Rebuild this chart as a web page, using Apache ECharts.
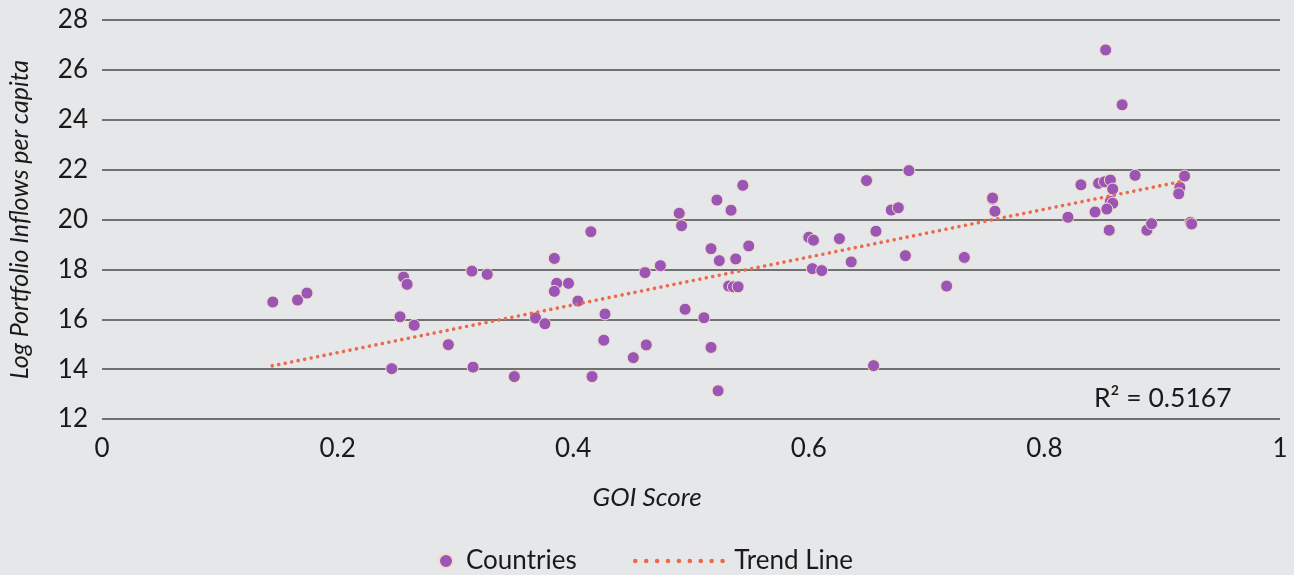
<!DOCTYPE html>
<html>
<head>
<meta charset="utf-8">
<script src="https://cdn.jsdelivr.net/npm/echarts@6/dist/echarts.min.js"></script>
<style>
  html, body { margin: 0; padding: 0; background: #e6e7e9; }
  #chart { width: 1294px; height: 575px; }
</style>
</head>
<body>
<div id="chart"></div>
<script>
// GOI score per country (x) and log portfolio inflows per capita (y)
const goiScore = [
  0.145, 0.166, 0.174, 0.256, 0.259, 0.314, 0.327, 0.253, 0.265, 0.368, 0.294, 0.246, 0.315, 0.350,
  0.544, 0.522, 0.534, 0.490, 0.492, 0.415, 0.517, 0.549, 0.524, 0.538, 0.384, 0.474, 0.461, 0.386,
  0.396, 0.384, 0.532, 0.536, 0.540, 0.404, 0.376, 0.427, 0.495, 0.511, 0.426, 0.462, 0.451, 0.517,
  0.416, 0.523,
  0.685, 0.649, 0.756, 0.756, 0.758, 0.670, 0.676, 0.600, 0.604, 0.626, 0.657, 0.636, 0.682, 0.732,
  0.603, 0.611, 0.717, 0.655,
  0.852, 0.866, 0.877, 0.919, 0.831, 0.846, 0.851, 0.856, 0.858, 0.915, 0.914, 0.856, 0.858, 0.853,
  0.843, 0.820, 0.855, 0.887, 0.891, 0.924, 0.925
];
const logInflows = [
  16.69, 16.77, 17.05, 17.69, 17.40, 17.93, 17.80, 16.10, 15.76, 16.05, 14.98, 14.02, 14.08, 13.70,
  21.37, 20.78, 20.37, 20.25, 19.75, 19.51, 18.83, 18.94, 18.35, 18.42, 18.44, 18.15, 17.87, 17.44,
  17.44, 17.12, 17.33, 17.30, 17.30, 16.73, 15.82, 16.21, 16.40, 16.06, 15.16, 14.97, 14.46, 14.87,
  13.70, 13.13,
  21.96, 21.56, 20.82, 20.86, 20.33, 20.38, 20.47, 19.29, 19.17, 19.23, 19.53, 18.30, 18.55, 18.48,
  18.03, 17.95, 17.33, 14.14,
  26.80, 24.60, 21.77, 21.74, 21.39, 21.45, 21.51, 21.58, 21.22, 21.29, 21.03, 20.73, 20.65, 20.42,
  20.30, 20.09, 19.57, 19.57, 19.83, 19.89, 19.82
];
// trend line end points
const trendX = [0.1445, 0.9148];
const trendY = [14.13, 21.51];
const rSquared = 'R² = 0.5167';

const font = 'Lato, "Open Sans", sans-serif';
const textColor = '#1a1a1a';
const trendColor = '#ec6a4c';

const chart = echarts.init(document.getElementById('chart'));

chart.setOption({
  backgroundColor: '#e6e7e9',
  animation: false,
  grid: { left: 102, right: 14, top: 20, bottom: 156, outerBoundsMode: 'none' },
  xAxis: {
    type: 'value',
    min: 0,
    max: 1,
    interval: 0.2,
    axisLine: { show: false },
    axisTick: { show: false },
    splitLine: { show: false },
    axisLabel: { fontFamily: font, fontSize: 26, color: textColor, margin: 17 },
  },
  yAxis: {
    type: 'value',
    min: 12,
    max: 28,
    interval: 2,
    name: 'Log Portfolio Inflows per capita',
    nameLocation: 'middle',
    nameGap: 70,
    nameTextStyle: { fontFamily: font, fontSize: 25, fontStyle: 'italic', color: textColor },
    axisLine: { show: false },
    axisTick: { show: false },
    splitLine: { lineStyle: { color: '#4a4a4a', width: 1.5 } },
    axisLabel: { fontFamily: font, fontSize: 26, color: textColor, margin: 14 },
  },
  legend: [
    {
      data: ['Countries'],
      left: 433,
      top: 543,
      itemWidth: 14,
      itemHeight: 14,
      icon: 'circle',
      textStyle: { fontFamily: font, fontSize: 26, color: textColor, padding: [0, 0, 0, 8] },
    },
    {
      data: [{
        name: 'Trend Line',
        itemStyle: { color: 'rgba(0,0,0,0)', borderWidth: 0 },
        lineStyle: { color: trendColor, width: 4.6, type: [0.01, 10.9], cap: 'round' },
      }],
      left: 628,
      top: 543,
      itemWidth: 90,
      itemHeight: 14,
      textStyle: { fontFamily: font, fontSize: 26, color: textColor, padding: [0, 0, 0, 4] },
    },
  ],
  graphic: [
    {
      type: 'text',
      left: 'center',
      top: 485,
      style: { text: 'GOI Score', font: `italic 26px ${font}`, fill: textColor },
    },
    {
      type: 'text',
      left: 1094,
      top: 385,
      style: { text: rSquared, font: `26.5px ${font}`, fill: textColor },
    },
  ],
  series: [
    {
      name: 'Trend Line',
      type: 'line',
      symbol: 'none',
      data: trendX.map((x, i) => [x, trendY[i]]),
      lineStyle: { color: trendColor, width: 3.6, type: [0.01, 6.6], cap: 'round' },
      itemStyle: { color: trendColor },
      z: 3,
    },
    {
      name: 'Countries',
      type: 'scatter',
      symbolSize: 12,
      data: goiScore.map((x, i) => [x, logInflows[i]]),
      itemStyle: { color: '#9b55b5', borderColor: '#f2dcc8', borderWidth: 1, opacity: 1 },
      z: 2,
    },
  ],
});
</script>
</body>
</html>
